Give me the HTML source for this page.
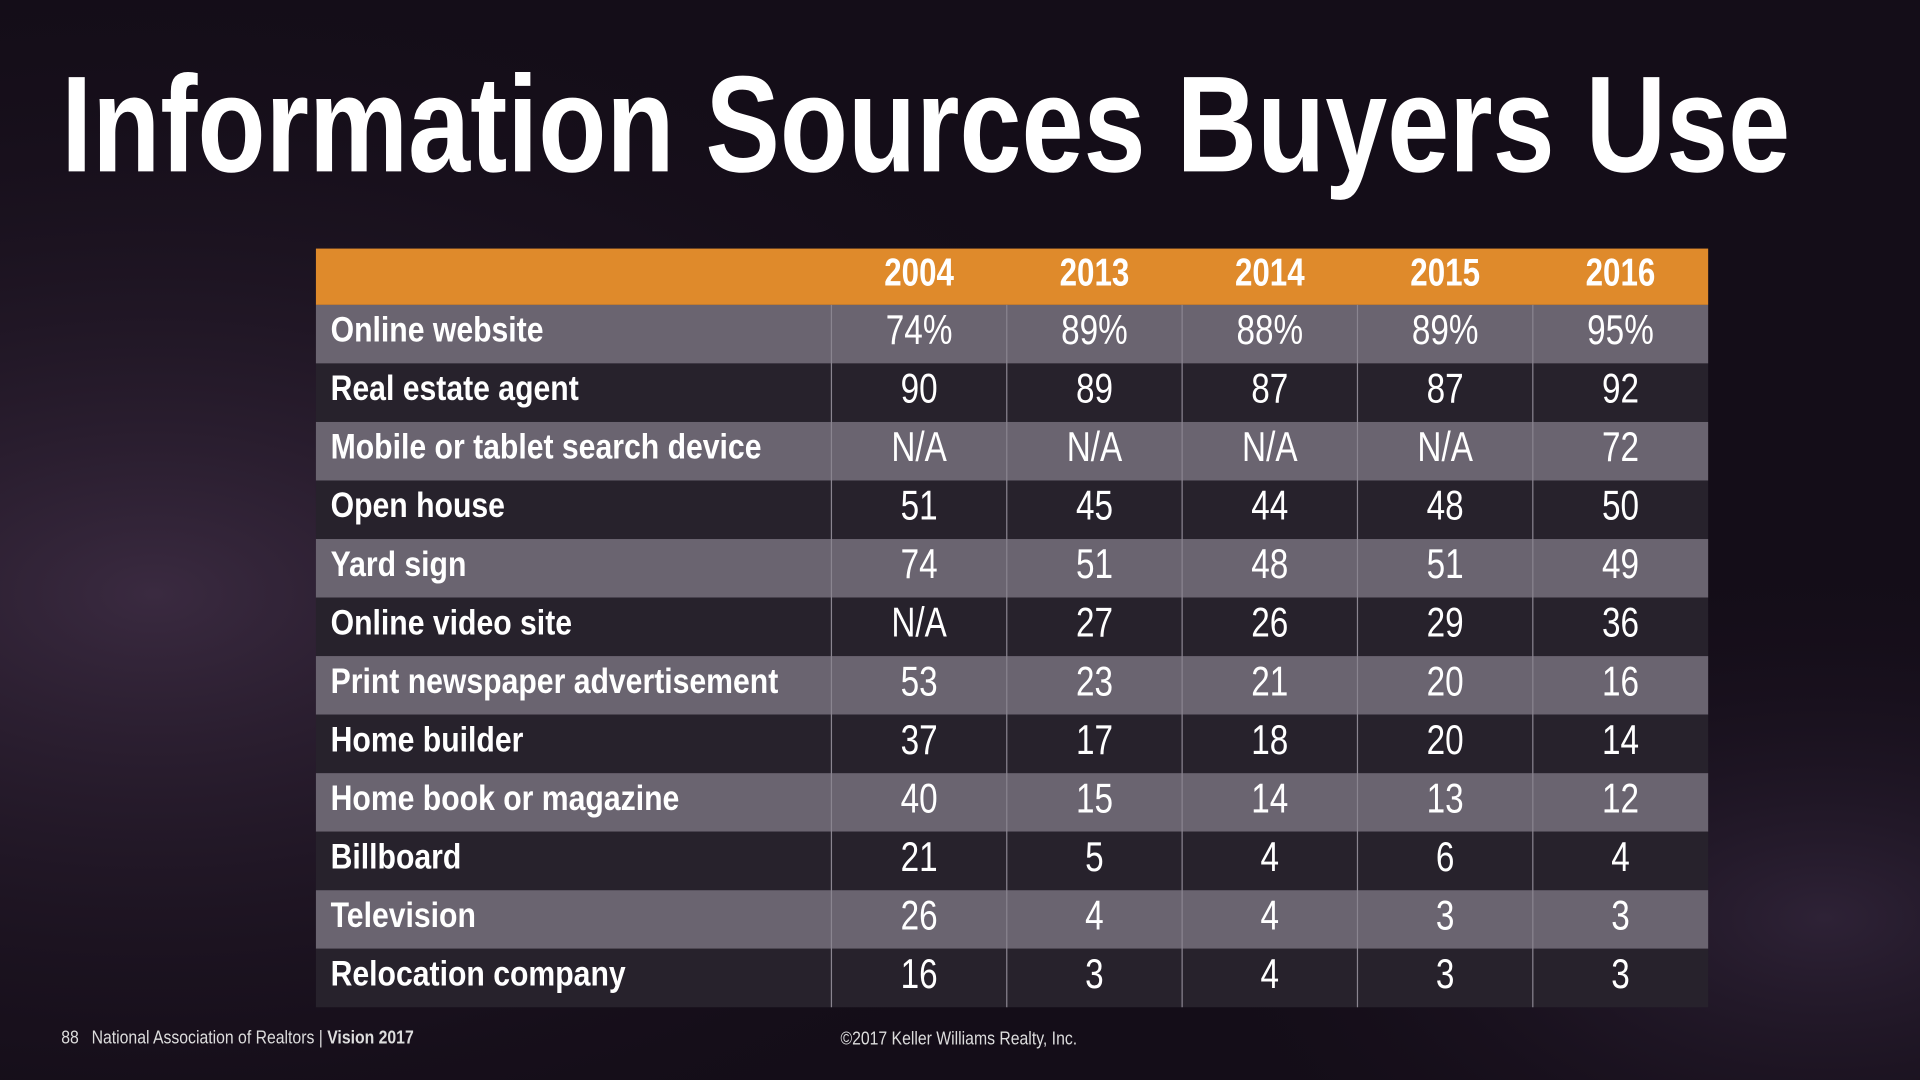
<!DOCTYPE html>
<html><head><meta charset="utf-8"><style>
html,body{margin:0;padding:0;width:1920px;height:1080px;overflow:hidden;background:#140d18}
svg{display:block}
text{font-family:"Liberation Sans Narrow","Liberation Sans",sans-serif}
</style></head><body>
<svg id="slide" width="1920" height="1080" viewBox="0 0 1568 882" xmlns="http://www.w3.org/2000/svg">
<defs>
<radialGradient id="bg1" cx="0.08" cy="0.55" r="0.6">
<stop offset="0" stop-color="#3a2a40"/><stop offset="1" stop-color="#140d18" stop-opacity="0"/>
</radialGradient>
<radialGradient id="bg2" cx="0.95" cy="0.85" r="0.35">
<stop offset="0" stop-color="#2e2236"/><stop offset="1" stop-color="#140d18" stop-opacity="0"/>
</radialGradient>
</defs>
<rect width="1568" height="882" fill="#140d18"/>
<rect width="1568" height="882" fill="url(#bg1)"/>
<rect width="1568" height="882" fill="url(#bg2)"/>
<text x="50" y="140" font-size="112" font-weight="bold" fill="#fff" textLength="1412" lengthAdjust="spacingAndGlyphs">Information Sources Buyers Use</text>
<g id="table"></g>
<g transform="translate(50,852) scale(0.86,1)">
<text x="0" y="0" font-size="15" fill="#ddd">88 <tspan dx="8">National Association of Realtors | </tspan><tspan font-weight="bold">Vision 2017</tspan></text>
</g>
<g transform="translate(783,853) scale(0.86,1)">
<text x="0" y="0" font-size="15" fill="#ddd" text-anchor="middle">©2017 Keller Williams Realty, Inc.</text>
</g>
</svg>
<script>
const years = ["2004","2013","2014","2015","2016"];
const sources = ["Online website","Real estate agent","Mobile or tablet search device","Open house","Yard sign","Online video site","Print newspaper advertisement","Home builder","Home book or magazine","Billboard","Television","Relocation company"];
const v2004 = ["74%","90","N/A","51","74","N/A","53","37","40","21","26","16"];
const v2013 = ["89%","89","N/A","45","51","27","23","17","15","5","4","3"];
const v2014 = ["88%","87","N/A","44","48","26","21","18","14","4","4","4"];
const v2015 = ["89%","87","N/A","48","51","29","20","20","13","6","3","3"];
const v2016 = ["95%","92","72","50","49","36","16","14","12","4","3","3"];
const series = [v2004,v2013,v2014,v2015,v2016];
const NS="http://www.w3.org/2000/svg";
const g=document.getElementById('table');
const X0=258, X1=1395, LW=421, HY=203, HH=46, RH=47.8;
const CW=(X1-X0-LW)/years.length;
function el(t,a,p){const e=document.createElementNS(NS,t);for(const k in a)e.setAttribute(k,a[k]);(p||g).appendChild(e);return e;}
function txt(x,y,sx,attrs,str){
  const w=el('g',{transform:'translate('+x+','+y+') scale('+sx+',1)'});
  const t=el('text',Object.assign({x:0,y:0,fill:'#fff'},attrs),w);
  t.textContent=str;
  return t;
}
const hdr=el('rect',{x:X0,y:HY,width:X1-X0,height:HH,fill:'#df8a2b'});


years.forEach((y,j)=>{
  const t=txt(X0+LW+CW*(j+0.5),HY+30,0.8,{'font-size':32,'font-weight':'bold','text-anchor':'middle'},y);
  
  
});
sources.forEach((s,i)=>{
  const y=HY+HH+i*RH;
  const r=el('rect',{x:X0,y:y,width:X1-X0,height:RH,fill:i%2===0?'#6a6470':'#27222c'});
  
  
  const l=txt(X0+12,y+30,0.85,{'font-size':29,'font-weight':'bold'},s);
  
  
  series.forEach((arr,j)=>{
    const t=txt(X0+LW+CW*(j+0.5),y+32,0.8,{'font-size':34,'text-anchor':'middle'},arr[i]);
    
    
  });
});
for(let j=0;j<years.length;j++){
  const x=X0+LW+CW*j;
  const ln=el('line',{x1:x,x2:x,y1:HY+HH,y2:HY+HH+RH*sources.length,stroke:'#8a8590','stroke-width':1});
  
  
}
</script>
</body></html>
